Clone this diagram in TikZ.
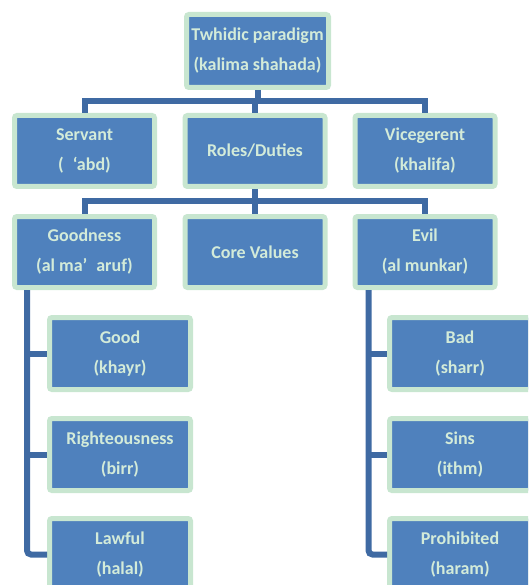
\documentclass[tikz,border=0pt]{standalone}
\usepackage{fontspec}
\setmainfont{Carlito}
\definecolor{boxc}{HTML}{4F81BD}
\definecolor{bordc}{HTML}{C8E6D0}
\definecolor{txtc}{HTML}{D3EBD9}
\definecolor{linec}{HTML}{3F6AA3}
\begin{document}
\begin{tikzpicture}[x=1pt,y=1pt,
  box/.style={draw=bordc, line width=5pt, fill=boxc, rounded corners=2.5pt,
    minimum width=140pt, minimum height=71pt, text=txtc, align=center,
    font=\fontsize{18}{30}\selectfont\bfseries, inner sep=0pt},
  conn/.style={draw=linec, line width=6pt}]
\clip (0,0) rectangle (528,-585);
\useasboundingbox (0,0) rectangle (528,-585);

\node[box, minimum width=142pt, minimum height=73pt] (top) at (257.5,-51) {Twhidic paradigm\\(kalima shahada)};

\node[box] (servant) at (84.5,-151) {Servant\\(\hspace{0.5em}‘abd)};
\node[box] (roles) at (255,-151) {Roles/Duties};
\node[box] (vice) at (425,-151) {Vicegerent\\(khalifa)};

\node[box] (good) at (84.5,-252) {Goodness\\(al ma’\hspace{0.5em}aruf)};
\node[box] (core) at (255,-252) {Core Values};
\node[box] (evil) at (425,-252) {Evil\\(al munkar)};

\node[box, minimum width=141pt, minimum height=72pt] (g1) at (120,-353.5) {Good\\(khayr)};
\node[box, minimum width=141pt, minimum height=72pt] (g2) at (120,-454.5) {Righteousness\\(birr)};
\node[box, minimum width=141pt, minimum height=72pt] (g3) at (120,-554.5) {Lawful\\(halal)};

\node[box, minimum width=141pt, minimum height=72pt] (e1) at (460,-353.5) {Bad\\(sharr)};
\node[box, minimum width=141pt, minimum height=72pt] (e2) at (460,-454.5) {Sins\\(ithm)};
\node[box, minimum width=141pt, minimum height=72pt] (e3) at (460,-554.5) {Prohibited\\(haram)};

\coordinate (h1) at (0,-101);
\coordinate (h2) at (0,-201);

\draw[conn] (top.south) -- (top.south |- h1);
\draw[conn] (servant.north) |- (h1 -| roles.north) -| (vice.north);
\draw[conn] (roles.north) -- (roles.north |- h1);

\draw[conn] (roles.south) -- (roles.south |- h2);
\draw[conn] (good.north) |- (h2 -| core.north) -| (evil.north);
\draw[conn] (core.north) -- (core.north |- h2);

\coordinate (lv) at ([xshift=15pt]good.south west);
\draw[conn, rounded corners=4pt] (lv) |- (g3.west);
\draw[conn] (lv |- g1.west) -- (g1.west);
\draw[conn] (lv |- g2.west) -- (g2.west);

\coordinate (rv) at ([xshift=16pt]evil.south west);
\draw[conn, rounded corners=4pt] (rv) |- (e3.west);
\draw[conn] (rv |- e1.west) -- (e1.west);
\draw[conn] (rv |- e2.west) -- (e2.west);
\end{tikzpicture}
\end{document}
